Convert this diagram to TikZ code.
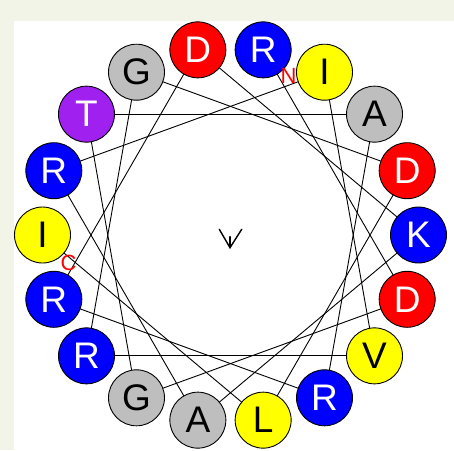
\documentclass[tikz,border=0pt]{standalone}
\usepackage{fontspec}
\setmainfont{Liberation Sans}
\usetikzlibrary{calc}
\definecolor{bgbeige}{RGB}{243,244,232}
\definecolor{resgray}{RGB}{190,190,190}
\definecolor{respurple}{RGB}{160,32,240}
\definecolor{resblue}{RGB}{0,0,255}
\definecolor{resred}{RGB}{255,0,0}
\definecolor{resyellow}{RGB}{255,255,0}
\pgfdeclarelayer{bglayer}
\pgfdeclarelayer{linelayer}
\pgfsetlayers{bglayer,linelayer,main}
\tikzset{
  res/.style={circle, draw=black, line width=0.9pt, minimum size=56pt, inner sep=0pt,
    font=\fontsize{37}{42}\selectfont},
  wheelline/.style={draw=black, line width=0.9pt},
  termlab/.style={text=red, font=\fontsize{22}{24}\selectfont, inner sep=0pt},
  moment/.style={draw=black, line width=1.4pt, line cap=round, line join=miter}
}
\begin{document}
\begin{tikzpicture}[x=1pt,y=-1pt]
\begin{pgfonlayer}{bglayer}
  \fill[bgbeige] (0,0) rectangle (454,450);
  \fill[white] (14,21) rectangle (454,450);
\end{pgfonlayer}
\useasboundingbox (0,0) rectangle (454,450);
\foreach \aa/\fc/\tc [count=\k] in {R/resblue/white, D/resred/white, G/resgray/black,
  T/respurple/white, A/resgray/black, R/resblue/white, R/resblue/white, D/resred/white,
  K/resblue/white, A/resgray/black, R/resblue/white, I/resyellow/black, V/resyellow/black,
  R/resblue/white, G/resgray/black, D/resred/white, L/resyellow/black, I/resyellow/black}{
  \pgfmathsetmacro{\ang}{80-100*(\k-1)}
  \node[res, fill=\fc, text=\tc] (r\k) at ({230.5+188*cos(\ang)},{235-188*sin(\ang)}) {\aa};
}
\begin{pgfonlayer}{linelayer}
  \foreach \k [evaluate=\k as \nk using int(\k+1)] in {1,...,17}{
    \draw[wheelline] (r\k.center) -- (r\nk.center);
  }
\end{pgfonlayer}
\node[termlab] (nlab) at ($(r1.center)+(25.5,26.5)$) {N};
\node[termlab] (clab) at ($(r18.center)+(26,28)$) {C};
\coordinate (mtail) at (230,236.7);
\coordinate (mtip) at (230,247.7);
\coordinate (mleft) at (219.3,229.3);
\coordinate (mright) at (241.7,229.3);
\draw[moment] (mtail) -- (mtip);
\draw[moment] (mleft) -- (mtip) -- (mright);
\end{tikzpicture}
\end{document}
